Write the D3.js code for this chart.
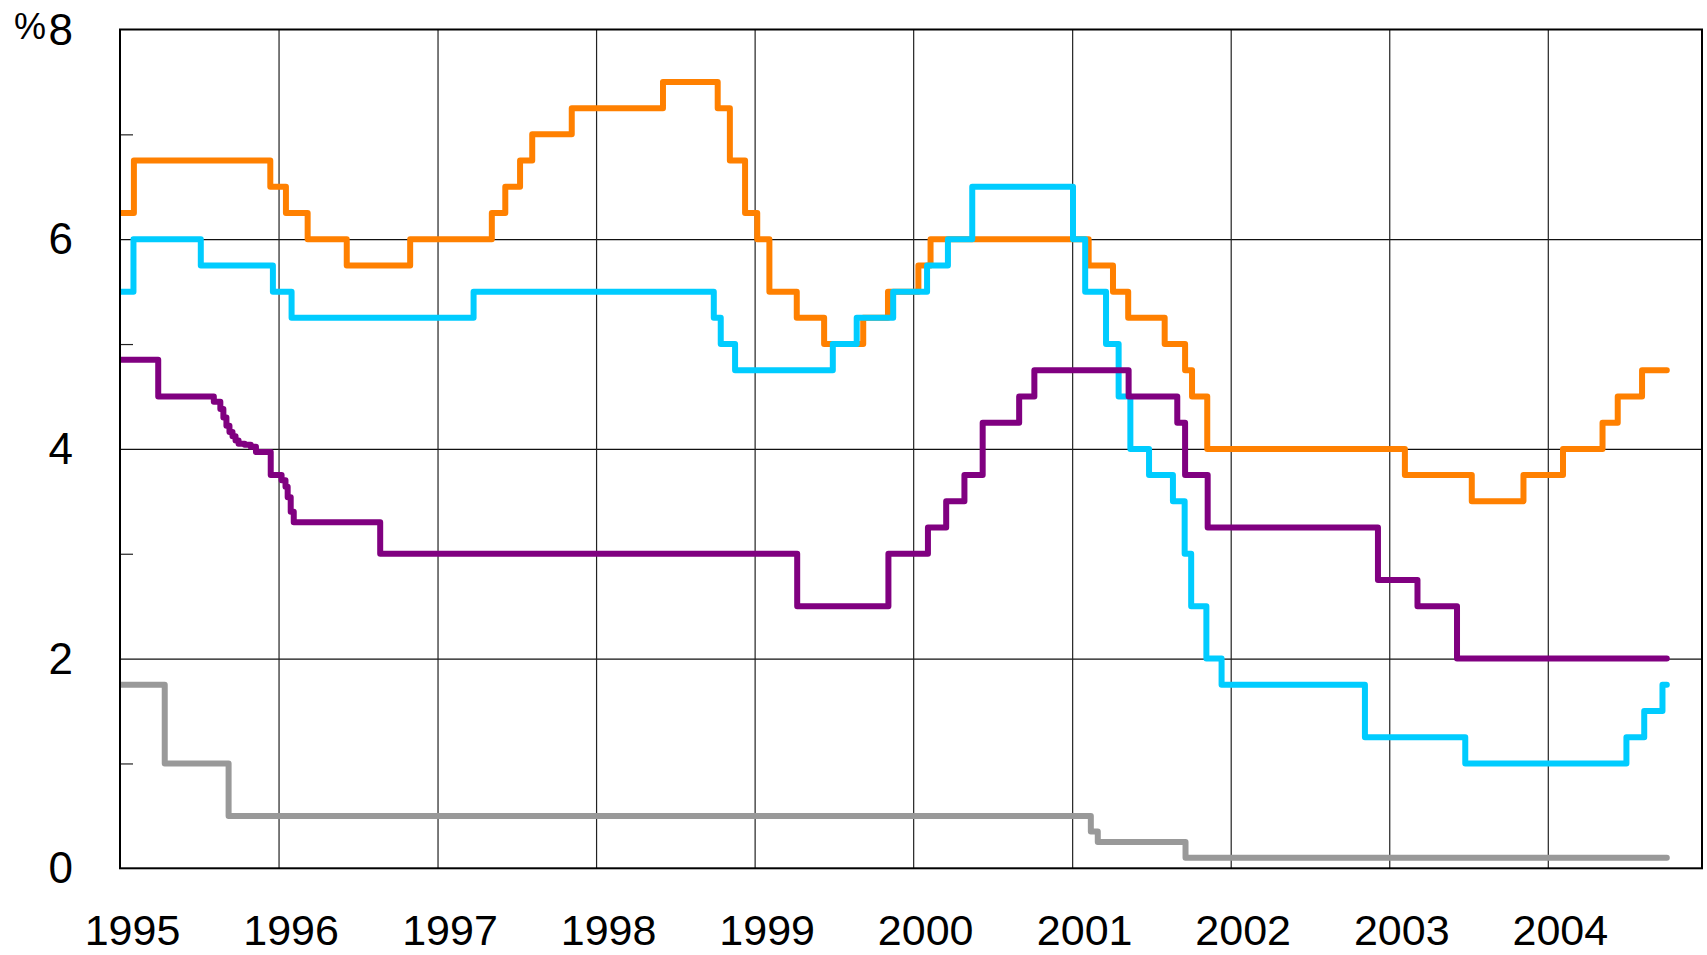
<!DOCTYPE html>
<html lang="en">
<head>
    <meta charset="UTF-8">
    <title>Policy rates 1995-2004</title>
    <script src="https://d3js.org/d3.v7.min.js"></script>
    <style>
        body { margin: 0; background: #fff; }
        text { font-family: "Liberation Sans", Arial, sans-serif; fill: #000; }
    </style>
</head>
<body>
    <div id="chart"></div>

    <script>
        // Step series: [date the rate took effect, rate in %]
        const orangeRate = [
            ["1995-01-01", 6.25], ["1995-02-02", 6.75], ["1995-12-13", 6.5], ["1996-01-18", 6.25],
            ["1996-03-08", 6.0], ["1996-06-06", 5.75], ["1996-10-30", 6.0], ["1997-05-06", 6.25],
            ["1997-06-06", 6.5], ["1997-07-10", 6.75], ["1997-08-07", 7.0], ["1997-11-06", 7.25],
            ["1998-06-04", 7.5], ["1998-10-08", 7.25], ["1998-11-05", 6.75], ["1998-12-10", 6.25],
            ["1999-01-07", 6.0], ["1999-02-04", 5.5], ["1999-04-08", 5.25], ["1999-06-10", 5.0],
            ["1999-09-08", 5.25], ["1999-11-04", 5.5], ["2000-01-13", 5.75], ["2000-02-10", 6.0],
            ["2001-02-08", 5.75], ["2001-04-05", 5.5], ["2001-05-10", 5.25], ["2001-08-02", 5.0],
            ["2001-09-18", 4.75], ["2001-10-04", 4.5], ["2001-11-08", 4.0], ["2003-02-06", 3.75],
            ["2003-07-10", 3.5], ["2003-11-06", 3.75], ["2004-02-05", 4.0], ["2004-05-06", 4.25],
            ["2004-06-10", 4.5], ["2004-08-05", 4.75]
        ];

        const cyanRate = [
            ["1995-01-01", 5.5], ["1995-02-01", 6.0], ["1995-07-06", 5.75], ["1995-12-19", 5.5],
            ["1996-01-31", 5.25], ["1997-03-25", 5.5], ["1998-09-29", 5.25], ["1998-10-15", 5.0],
            ["1998-11-17", 4.75], ["1999-06-30", 5.0], ["1999-08-24", 5.25], ["1999-11-16", 5.5],
            ["2000-02-02", 5.75], ["2000-03-21", 6.0], ["2000-05-16", 6.5], ["2001-01-03", 6.0],
            ["2001-01-31", 5.5], ["2001-03-20", 5.0], ["2001-04-18", 4.5], ["2001-05-15", 4.0],
            ["2001-06-27", 3.75], ["2001-08-21", 3.5], ["2001-09-17", 3.0], ["2001-10-02", 2.5],
            ["2001-11-06", 2.0], ["2001-12-11", 1.75], ["2002-11-06", 1.25], ["2003-06-25", 1.0],
            ["2004-06-30", 1.25], ["2004-08-10", 1.5], ["2004-09-21", 1.75]
        ];

        const purpleRate = [
            ["1995-01-01", 4.85], ["1995-03-30", 4.5], ["1995-08-05", 4.45], ["1995-08-20", 4.38],
            ["1995-08-27", 4.3], ["1995-09-03", 4.22], ["1995-09-10", 4.16], ["1995-09-17", 4.12],
            ["1995-09-24", 4.08], ["1995-10-01", 4.05], ["1995-10-15", 4.04], ["1995-10-29", 4.02],
            ["1995-11-10", 3.97], ["1995-12-14", 3.75], ["1996-01-08", 3.7], ["1996-01-17", 3.64],
            ["1996-01-22", 3.54], ["1996-01-29", 3.4], ["1996-02-05", 3.3], ["1996-08-22", 3.0],
            ["1999-04-09", 2.5], ["1999-11-05", 3.0], ["2000-02-04", 3.25], ["2000-03-17", 3.5],
            ["2000-04-28", 3.75], ["2000-06-09", 4.25], ["2000-09-01", 4.5], ["2000-10-06", 4.75],
            ["2001-05-11", 4.5], ["2001-08-31", 4.25], ["2001-09-18", 3.75], ["2001-11-09", 3.25],
            ["2002-12-06", 2.75], ["2003-03-07", 2.5], ["2003-06-06", 2.0]
        ];

        const grayRate = [
            ["1995-01-01", 1.75], ["1995-04-14", 1.0], ["1995-09-08", 0.5], ["2001-02-13", 0.35],
            ["2001-03-01", 0.25], ["2001-09-19", 0.1]
        ];

        const lastDate = "2004-10-01";
        const yearTicks = [1995, 1996, 1997, 1998, 1999, 2000, 2001, 2002, 2003, 2004];
        const yTickLabels = [0, 2, 4, 6, 8];
        const yMinorTicks = [1, 3, 5, 7];

        // Canvas and plot box
        const svgWidth = 1707;
        const svgHeight = 955;
        const plot = { left: 120, right: 1702, top: 29.5, bottom: 868.3 };
        const parse = d3.timeParse("%Y-%m-%d");

        const svg = d3.select("#chart")
            .append("svg")
            .attr("width", svgWidth)
            .attr("height", svgHeight);

        const x = d3.scaleTime()
            .domain([new Date(1995, 0, 1), new Date(2004, 11, 21)])
            .range([plot.left, plot.right]);

        const y = d3.scaleLinear()
            .domain([0, 8])
            .range([plot.bottom, plot.top]);

        const plotW = plot.right - plot.left;
        const plotH = plot.bottom - plot.top;

        // Horizontal grid
        svg.append("g")
            .attr("transform", `translate(${plot.left},0)`)
            .call(d3.axisLeft(y).tickValues([2, 4, 6]).tickSize(-plotW).tickFormat(""))
            .call(g => g.select(".domain").remove())
            .call(g => g.selectAll("line").attr("stroke", "#111").attr("stroke-width", 1.3));

        // Vertical grid at each year
        svg.append("g")
            .attr("transform", `translate(0,${plot.bottom})`)
            .call(d3.axisBottom(x).tickValues(yearTicks.slice(1).map(yr => new Date(yr, 0, 1)))
                .tickSize(-plotH).tickFormat(""))
            .call(g => g.select(".domain").remove())
            .call(g => g.selectAll("line").attr("stroke", "#222").attr("stroke-width", 1.2));

        // Minor ticks on the left edge
        svg.append("g")
            .attr("transform", `translate(${plot.left},0)`)
            .call(d3.axisRight(y).tickValues(yMinorTicks).tickSize(13).tickFormat(""))
            .call(g => g.select(".domain").remove())
            .call(g => g.selectAll("line").attr("stroke", "#222").attr("stroke-width", 1.2));

        // Y labels
        svg.append("g")
            .attr("transform", `translate(${plot.left},0)`)
            .call(d3.axisLeft(y).tickValues(yTickLabels).tickSize(0).tickPadding(47).tickFormat(d3.format("d")))
            .call(g => g.select(".domain").remove())
            .call(g => g.selectAll("text")
                .attr("dy", "0.33em")
                .style("font-size", "44px")
                .style("font-family", "'Liberation Sans', Arial, sans-serif")
                .attr("fill", "#000"));

        svg.append("text")
            .attr("x", 46)
            .attr("y", 39)
            .attr("text-anchor", "end")
            .style("font-size", "36px")
            .text("%");

        // X labels
        svg.append("g")
            .attr("transform", `translate(0,${plot.bottom})`)
            .call(d3.axisBottom(x).tickValues(yearTicks.map(yr => new Date(yr, 0, 1)))
                .tickSize(0).tickFormat(d3.timeFormat("%Y")))
            .call(g => g.select(".domain").remove())
            .call(g => g.selectAll("text")
                .attr("y", 77)
                .attr("dy", null)
                .attr("dx", 12)
                .style("font-size", "43px")
                .style("font-family", "'Liberation Sans', Arial, sans-serif")
                .attr("fill", "#000"));

        // Lines
        svg.append("clipPath").attr("id", "plot-clip")
            .append("rect")
            .attr("x", plot.left).attr("y", plot.top)
            .attr("width", plotW).attr("height", plotH);

        const line = d3.line()
            .x(d => x(d.date))
            .y(d => y(d.value))
            .curve(d3.curveStepAfter);

        const toPoints = rows => {
            const pts = rows.map(r => ({ date: parse(r[0]), value: r[1] }));
            pts.push({ date: parse(lastDate), value: rows[rows.length - 1][1] });
            return pts;
        };

        const series = [
            { rows: grayRate, color: "#999999" },
            { rows: orangeRate, color: "#ff8000" },
            { rows: cyanRate, color: "#00ccff" },
            { rows: purpleRate, color: "#800080" }
        ];

        const lines = svg.append("g").attr("clip-path", "url(#plot-clip)");
        lines.selectAll("path")
            .data(series)
            .enter().append("path")
            .attr("d", s => line(toPoints(s.rows)))
            .attr("fill", "none")
            .attr("stroke", s => s.color)
            .attr("stroke-width", 6)
            .attr("stroke-linejoin", "round")
            .attr("stroke-linecap", "round");

        // Frame
        svg.append("rect")
            .attr("x", plot.left)
            .attr("y", plot.top)
            .attr("width", plotW)
            .attr("height", plotH)
            .attr("fill", "none")
            .attr("stroke", "#000")
            .attr("stroke-width", 2);
    </script>
</body>
</html>
